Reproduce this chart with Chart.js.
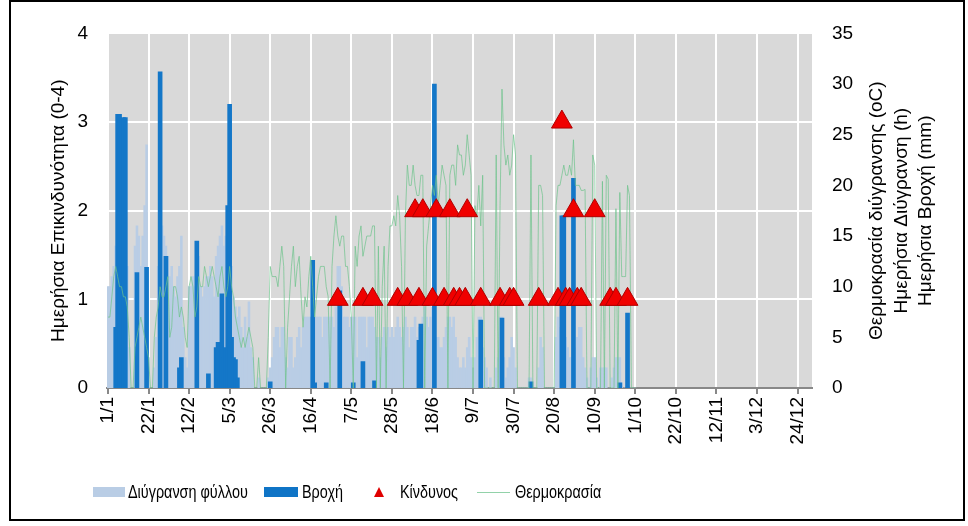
<!DOCTYPE html>
<html>
<head>
<meta charset="utf-8">
<script src="https://cdn.jsdelivr.net/npm/chart.js@4.4.1/dist/chart.umd.min.js"></script>
<style>
    html, body { margin: 0; padding: 0; background: #fff; }
    #frame { position: absolute; left: 9px; top: 0; width: 956px; height: 521px; border: 2px solid #000; box-sizing: border-box; }
    #frame canvas { position: absolute; left: 0; top: 0; }
    .box { position: absolute; }
    .lt { position: absolute; top: 481px; line-height: 22px; font-family: 'Liberation Sans', Arial, sans-serif; font-size: 18px; color: #000; white-space: nowrap; transform: scaleX(0.8); transform-origin: left center; }
</style>
</head>
<body>
<div id="frame"><canvas id="chart" width="952" height="517"></canvas></div>

<div class="box" style="left:93px;top:487px;width:32px;height:10px;background:#b9cde5"></div>
<span class="lt" style="left:128px">Διύγρανση φύλλου</span>
<div class="box" style="left:264px;top:487px;width:34px;height:10px;background:#0f74c6"></div>
<span class="lt" style="left:302px">Βροχή</span>
<div class="box" style="left:374px;top:487px;width:0;height:0;border-left:5px solid transparent;border-right:5px solid transparent;border-bottom:10px solid #e00000"></div>
<span class="lt" style="left:400px">Κίνδυνος</span>
<div class="box" style="left:477px;top:492px;width:33px;height:1px;background:rgba(110,195,140,0.75)"></div>
<span class="lt" style="left:515px">Θερμοκρασία</span>

<script>
document.addEventListener('DOMContentLoaded', function () {
    const monthDays = [31, 28, 31, 30, 31, 30, 31, 31, 30, 31, 30, 31];
    const tickLabels = ['1/1', '22/1', '12/2', '5/3', '26/3', '16/4', '7/5', '28/5', '18/6',
        '9/7', '30/7', '20/8', '10/9', '1/10', '22/10', '12/11', '3/12', '24/12'];

    // leaf wetness, hours per day (days 1/1 .. 1/10)
    const wetness = [
        10, 10, 11, 12, 14, 15, 16, 16, 16, 14, 12, 4, 0, 0,
        14, 16, 15, 12, 15, 18, 24, 3, 0, 0, 2, 5,
        12, 15, 16, 15, 14, 13, 11, 12, 10, 9, 11, 12, 15, 6, 3, 2,
        10, 10, 11, 10, 12, 13, 10, 9, 10, 11, 11, 12, 11, 9,
        13, 14, 15, 16, 14, 15, 16, 14, 12, 9, 8, 7, 8,
        6, 4, 7, 5, 8.5, 4, 3, 0, 0, 1, 0, 0, 0, 0, 1,
        2, 3, 5, 6, 6, 4, 6, 6, 3, 2, 5, 5, 2, 3, 5, 6, 4, 6, 7,
        7, 7, 7, 7, 7, 7, 7, 7, 5, 7, 7,
        7, 7, 7, 6, 8, 12, 12, 10, 7, 7, 7, 6, 7, 7,
        7, 3, 7, 7, 7, 7, 4, 7, 7, 7, 6, 5,
        5, 3, 5, 6, 4, 6, 5,
        6, 5, 6, 7, 6, 5, 6, 7, 6, 4, 6, 6, 7, 5, 6, 6,
        7, 8, 7, 6, 7, 8, 7, 5, 5, 4,
        4, 5, 6, 7, 7, 6, 7, 5, 3, 2, 2, 3, 2, 4, 5, 3, 2,
        3, 5, 7, 7, 4, 3, 2, 0, 1, 0,
        0, 2, 3, 7, 7, 3, 1, 2, 3, 5, 4, 2,
        0, 0, 0, 0, 0, 0, 1, 1, 0, 0, 0, 2, 5, 4, 0, 0, 0, 0, 0,
        0, 5, 7, 6, 7, 6, 5, 4, 3, 3, 2, 4, 5, 6, 6, 3, 2, 1, 0, 2,
        3, 3, 1, 0, 2, 2, 2, 2, 0, 0, 1, 2, 3, 3, 3, 0.5, 0, 0, 0, 0, 0, 0, 0
    ];

    // temperature during wetness, oC
    const temperature = [
        7, 7, 9, 11, 12, 11, 10, 10, 9, 9, 8, 5, 0, 0,
        4, 5, 6, 7, 6, 5, 4, 3, 0, 0, 5, 7,
        8, 10, 9, 9, 10, 11, 5, 6, 10, 10, 9, 7, 8, 7, 5, 4,
        10, 11, 10, 7, 8, 11, 10, 10, 12, 11, 10, 11, 12, 11,
        10, 9, 11, 12, 10, 9, 10, 12, 10, 9, 7, 6, 5,
        4, 5, 4, 5, 6, 5, 4, 0, 0, 3, 0, 0, 0, 0, 5,
        12, 11, 11, 11, 10, 12, 14, 12, 0, 6, 9, 12, 14, 10, 12, 13, 9, 6, 9,
        8, 11, 13, 10, 7, 9, 11, 12, 12, 12, 10,
        9, 0, 12, 15, 17, 15, 14, 15, 15, 12, 12, 10, 7, 0,
        14, 12, 15, 16, 13, 14, 15, 15, 15, 16, 16, 0,
        14, 0, 10, 14, 0, 12, 16,
        16, 17, 16, 19, 17, 12, 0, 17, 22, 20, 20, 22, 20, 19, 19, 21,
        21, 0, 14, 16, 18, 20, 19, 21, 18, 20,
        22, 21, 20, 0, 21, 22, 22, 20, 24, 23, 23, 21, 22, 25, 23, 21, 0,
        18, 17, 20, 16, 21, 0, 0, 0, 0, 0,
        0, 23, 0, 18, 29.5, 24, 22, 23, 21, 22, 25, 23,
        0, 0, 0, 0, 0, 0, 0, 23, 0, 0, 0, 20, 20, 19, 0, 0, 0, 0, 0,
        0, 18, 20, 20, 21, 22, 21, 21, 22, 21, 24.5, 20, 20, 20, 19.5, 19.5, 19.6, 0, 0, 0,
        23, 22, 0, 0, 0, 20.4, 0, 21, 20.6, 0, 0, 0, 17.7, 0, 19.3, 11, 11, 11, 20, 19, 0, 0, 0
    ];

    // rain, [day index, mm]
    const rain = [
        [4, 6], [5, 27], [6, 27], [7, 26.5], [8, 26.7], [9, 26.7], [15, 11.4], [20, 11.9],
        [27, 31.2], [30, 13], [37, 2], [38, 3], [46, 14.5], [52, 1.4],
        [56, 4], [57, 4.5], [58, 1], [59, 9.3], [60, 3], [61, 4], [62, 18], [63, 28],
        [64, 5], [65, 3], [66, 2.8], [67, 1], [84, 0.6], [106, 12.6], [107, 0.5], [113, 0.5],
        [120, 9.6], [127, 0.5], [132, 2.6], [138, 0.7], [161, 4.7], [162, 6.3], [169, 30],
        [193, 6.7], [204, 6.9], [219, 0.6], [235, 17], [236, 17], [241, 20.7], [265, 0.5], [269, 7.4]
    ];

    // danger level, [day index, level 0-4]
    const danger = [
        [119, 1], [132, 1], [137, 1], [150, 1], [155, 1], [159, 2], [161, 1], [163, 2],
        [168, 1], [170, 2], [174, 1], [177, 2], [179, 1], [182, 1], [185, 1], [186, 2],
        [193, 1], [203, 1], [208, 1], [210, 1], [223, 1], [233, 1], [235, 3], [237, 1],
        [239, 1], [241, 2], [243, 1], [245, 1], [252, 2], [260, 1], [263, 1], [269, 1]
    ];

    const rightTitleLines = ['Θερμοκρασία διύγρανσης (oC)', 'Ημερήσια Διύγρανση (h)', 'Ημερήσια Βροχή (mm)'];

    const labels = [];
    monthDays.forEach((n, m) => { for (let d = 1; d <= n; d++) labels.push(d + '/' + (m + 1)); });
    const pad = arr => labels.map((_, i) => i < arr.length ? arr[i] : null);
    const sparse = pairs => {
        const out = labels.map(() => null);
        pairs.forEach(p => { out[p[0]] = p[1]; });
        return out;
    };

    const plotBg = {
        id: 'plotBg',
        beforeDraw(chart) {
            const a = chart.chartArea, ctx = chart.ctx;
            ctx.save();
            ctx.fillStyle = '#d9d9d9';
            ctx.fillRect(a.left, a.top, a.right - a.left, a.bottom - a.top);
            ctx.restore();
        }
    };
    const rightTitle = {
        id: 'rightTitle',
        afterDraw(chart) {
            const a = chart.chartArea, ctx = chart.ctx;
            const cy = (a.top + a.bottom) / 2;
            ctx.save();
            ctx.fillStyle = '#000';
            ctx.font = "19px 'Liberation Sans', Arial, sans-serif";
            ctx.textAlign = 'center';
            ctx.textBaseline = 'middle';
            rightTitleLines.forEach((t, i) => {
                ctx.save();
                ctx.translate(a.right + 65 + i * 24.5, cy);
                ctx.rotate(-Math.PI / 2);
                ctx.fillText(t, 0, 0);
                ctx.restore();
            });
            ctx.restore();
        }
    };

    Chart.defaults.font.family = "'Liberation Sans', Arial, sans-serif";
    Chart.defaults.color = '#000';

    const isTick = c => c.index % 21 === 0;

    new Chart(document.getElementById('chart').getContext('2d'), {
        type: 'bar',
        data: {
            labels: labels,
            datasets: [
                {
                    type: 'line', label: 'Κίνδυνος', data: sparse(danger), yAxisID: 'yL',
                    showLine: false, pointStyle: 'triangle', pointRadius: 12, pointHoverRadius: 12,
                    pointBackgroundColor: '#f00000', pointBorderColor: '#b00000', pointBorderWidth: 1, order: 0
                },
                {
                    type: 'line', label: 'Θερμοκρασία', data: pad(temperature), yAxisID: 'yR',
                    borderColor: 'rgba(110,195,140,0.7)', borderWidth: 1, pointRadius: 0, order: 1
                },
                {
                    label: 'Βροχή', data: sparse(rain), yAxisID: 'yR', backgroundColor: '#1477c8',
                    barThickness: 4, grouped: false, order: 2
                },
                {
                    label: 'Διύγρανση φύλλου', data: pad(wetness), yAxisID: 'yR', backgroundColor: '#b9cde5',
                    barPercentage: 1, categoryPercentage: 1, grouped: false, order: 3
                }
            ]
        },
        options: {
            responsive: false,
            animation: false,
            layout: { padding: { top: 30, bottom: 71, left: 0, right: 0 } },
            plugins: { legend: { display: false }, tooltip: { enabled: false } },
            scales: {
                x: {
                    offset: true,
                    grid: {
                        offset: false, lineWidth: 2, tickLength: 6,
                        color: c => isTick(c) ? '#ffffff' : 'rgba(0,0,0,0)',
                        tickColor: c => isTick(c) ? '#888888' : 'rgba(0,0,0,0)'
                    },
                    border: { display: true, color: '#888888', width: 2 },
                    ticks: {
                        autoSkip: false, minRotation: 90, maxRotation: 90, padding: 3,
                        font: { size: 19 },
                        callback: (v, i) => i % 21 === 0 ? tickLabels[i / 21] : ''
                    },
                    afterFit: s => { s.height = 60; }
                },
                yL: {
                    position: 'left', min: 0, max: 4,
                    ticks: { stepSize: 1, padding: 19, font: { size: 19 } },
                    grid: { color: '#ffffff', lineWidth: 2, drawTicks: false },
                    border: { display: false },
                    title: {
                        display: true, text: 'Ημερήσια Επικινδυνότητα (0-4)',
                        font: { size: 19 }, padding: { top: 36, bottom: 0 }
                    },
                    afterFit: s => { s.width = 96; }
                },
                yR: {
                    position: 'right', min: 0, max: 35,
                    ticks: { stepSize: 5, padding: 20, font: { size: 19 } },
                    grid: { display: false, drawTicks: false },
                    border: { display: false },
                    afterFit: s => { s.width = 151; }
                }
            }
        },
        plugins: [plotBg, rightTitle]
    });
});
</script>
</body>
</html>
